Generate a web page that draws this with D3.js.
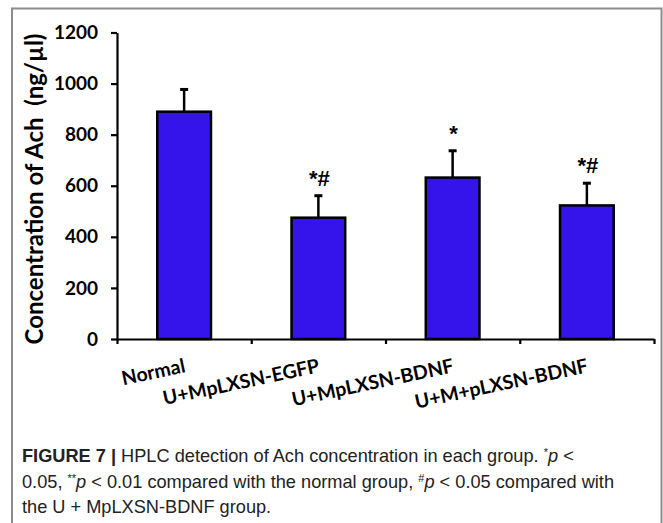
<!DOCTYPE html>
<html>
<head>
<meta charset="utf-8">
<script src="https://cdnjs.cloudflare.com/ajax/libs/d3/7.8.5/d3.min.js"></script>
<style>
  body { margin: 0; background: #fff; }
  svg { display: block; }
</style>
</head>
<body>
<div id="chart"></div>
<script>
// data
var groups = ["Normal", "U+MpLXSN-EGFP", "U+MpLXSN-BDNF", "U+M+pLXSN-BDNF"];
var means = [890, 475, 632, 523];
var errs = [87, 86, 105, 87];
var marks = ["", "*#", "*", "*#"];
var yTicks = [0, 200, 400, 600, 800, 1000, 1200];

var width = 663, height = 523;

var svg = d3.select("#chart").append("svg")
  .attr("width", width)
  .attr("height", height);

// figure frame
svg.append("path")
  .attr("d", "M12,530 V8.5 H661.5 V530")
  .attr("fill", "none")
  .attr("stroke", "#8c8c8c")
  .attr("stroke-width", 2);

var y = d3.scaleLinear().domain([0, 1200]).range([339, 32.5]);
var x = d3.scaleBand().domain(groups).range([117, 654])
  .paddingInner(0.6).paddingOuter(0.3);
var xEdge = d3.scaleLinear().domain([0, groups.length]).range([117, 654]);

var tickFont = "Lato, 'Open Sans', sans-serif";

// y axis
var gy = svg.append("g")
  .attr("transform", "translate(117,0)")
  .call(d3.axisLeft(y).tickValues(yTicks).tickFormat(d3.format("d"))
    .tickSize(6).tickSizeOuter(0).tickPadding(13));
gy.select(".domain").attr("stroke", "#000").attr("stroke-width", 2.2);
gy.selectAll(".tick line").attr("stroke", "#000").attr("stroke-width", 2.2);
gy.selectAll(".tick text")
  .attr("fill", "#000")
  .style("font-family", tickFont)
  .style("font-weight", "bold")
  .style("font-size", "19px");

// x axis, ticks between the groups
var gx = svg.append("g")
  .attr("transform", "translate(0,339)")
  .call(d3.axisBottom(xEdge).ticks(groups.length).tickSize(5).tickSizeOuter(0).tickFormat(""));
gx.select(".domain").attr("stroke", "#000").attr("stroke-width", 2.2);
gx.selectAll(".tick line").attr("stroke", "#000").attr("stroke-width", 2.2);

// slanted group labels
svg.append("g").selectAll("text")
  .data(groups)
  .enter().append("text")
  .attr("transform", function(d) {
    return "translate(" + (x(d) + x.bandwidth() / 2 + 2) + ",372) rotate(-12)";
  })
  .attr("text-anchor", "end")
  .style("font-family", tickFont)
  .style("font-weight", "bold")
  .style("font-size", "19.5px")
  .text(function(d) { return d; });

// y label
svg.append("text")
  .attr("transform", "translate(43,189) rotate(-90)")
  .attr("text-anchor", "middle")
  .style("font-family", tickFont)
  .style("font-weight", "bold")
  .style("font-size", "24px")
  .text("Concentration of Ach\u00a0 (ng/\u00b5l)");

// error bars (upper only)
var eb = svg.append("g").selectAll("g")
  .data(groups)
  .enter().append("g");
eb.append("line")
  .attr("x1", function(d) { return x(d) + x.bandwidth() / 2; })
  .attr("x2", function(d) { return x(d) + x.bandwidth() / 2; })
  .attr("y1", function(d, i) { return y(means[i]); })
  .attr("y2", function(d, i) { return y(means[i] + errs[i]); })
  .attr("stroke", "#000")
  .attr("stroke-width", 2.5);
eb.append("line")
  .attr("x1", function(d) { return x(d) + x.bandwidth() / 2 - 4; })
  .attr("x2", function(d) { return x(d) + x.bandwidth() / 2 + 4; })
  .attr("y1", function(d, i) { return y(means[i] + errs[i]); })
  .attr("y2", function(d, i) { return y(means[i] + errs[i]); })
  .attr("stroke", "#000")
  .attr("stroke-width", 3);

// bars
svg.append("g").selectAll("rect")
  .data(groups)
  .enter().append("rect")
  .attr("x", function(d) { return x(d); })
  .attr("width", x.bandwidth())
  .attr("y", function(d, i) { return y(means[i]); })
  .attr("height", function(d, i) { return y(0) - y(means[i]); })
  .attr("fill", "#3414ea")
  .attr("stroke", "#000")
  .attr("stroke-width", 2.5);

// significance marks
svg.append("g").selectAll("text")
  .data(groups)
  .enter().append("text")
  .attr("x", function(d) { return x(d) + x.bandwidth() / 2 + 1; })
  .attr("y", function(d, i) { return y(means[i] + errs[i]) - 10; })
  .attr("text-anchor", "middle")
  .style("font-family", "'Liberation Sans', Arial, sans-serif")
  .style("font-weight", "bold")
  .style("font-size", "22px")
  .text(function(d, i) { return marks[i]; });

// caption
var cap = svg.append("text")
  .style("font-family", "'Liberation Sans', Arial, sans-serif")
  .style("font-size", "18.2px")
  .attr("fill", "#222");

var l1 = cap.append("tspan").attr("x", 22).attr("y", 462);
l1.append("tspan").style("font-weight", "bold").text("FIGURE 7 |");
l1.append("tspan").text(" HPLC detection of Ach concentration in each group. ");
l1.append("tspan").attr("dy", -6).style("font-size", "11px").text("*");
l1.append("tspan").attr("dy", 6).style("font-style", "italic").text("p");
l1.append("tspan").text(" <");

var l2 = cap.append("tspan").attr("x", 22).attr("y", 488);
l2.append("tspan").text("0.05, ");
l2.append("tspan").attr("dy", -6).style("font-size", "11px").text("**");
l2.append("tspan").attr("dy", 6).style("font-style", "italic").text("p");
l2.append("tspan").text(" < 0.01 compared with the normal group, ");
l2.append("tspan").attr("dy", -6).style("font-size", "11px").text("#");
l2.append("tspan").attr("dy", 6).style("font-style", "italic").text("p");
l2.append("tspan").text(" < 0.05 compared with");

cap.append("tspan").attr("x", 22).attr("y", 513).text("the U + MpLXSN-BDNF group.");
</script>
</body>
</html>
